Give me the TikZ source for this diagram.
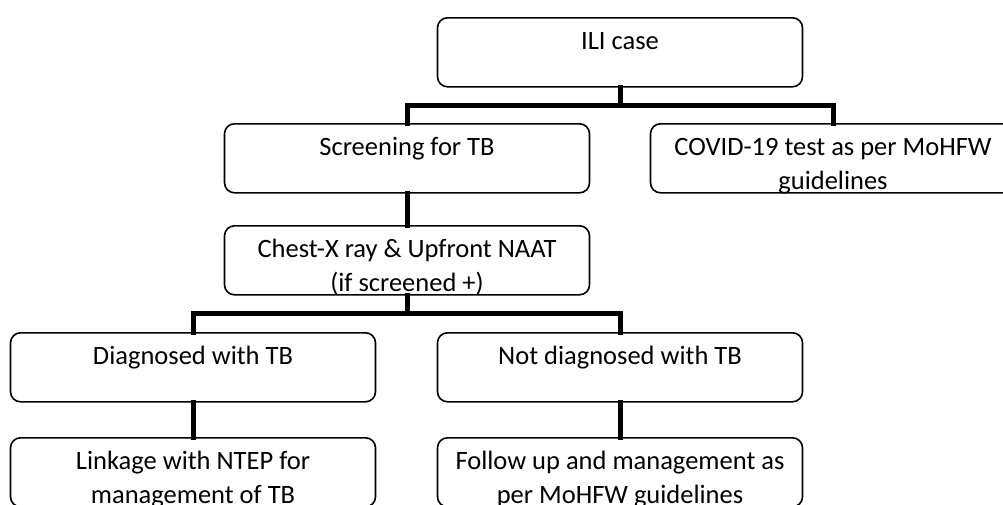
\documentclass[tikz,border=0pt]{standalone}
\usepackage{fontspec}
\setmainfont{Carlito}
\begin{document}
\begin{tikzpicture}[x=1pt,y=-1pt,
  box/.style={draw, line width=1.6pt, rounded corners=10pt, minimum width=365pt,
    inner xsep=0pt, inner ysep=0pt, text height=32pt, text depth=37pt, anchor=north,
    font=\fontsize{26.5}{34}\selectfont},
  conn/.style={line width=5pt, line cap=rect}]
\useasboundingbox (0,0) rectangle (1003,504);
\newcommand{\tl}[2]{\begin{tabular}[t]{@{}c@{}}#1\\#2\end{tabular}}
\node[box] (ili) at (620,17) {ILI case};
\node[box] (scr) at (407,123) {Screening for TB};
\node[box] (cov) at (833,123) {\tl{COVID-19 test as per MoHFW}{guidelines}};
\node[box] (chest) at (407,225) {\tl{Chest-X ray \& Upfront NAAT}{(if screened +)}};
\node[box] (diag) at (193,332) {Diagnosed with TB};
\node[box] (ndiag) at (620,332) {Not diagnosed with TB};
\node[box] (link) at (193,437) {\tl{Linkage with NTEP for}{management of TB}};
\node[box] (foll) at (620,437) {\tl{Follow up and management as}{per MoHFW guidelines}};
\coordinate (j1) at (620,105);
\coordinate (j2) at (407,313);
\draw[conn] (ili.south) -- (j1);
\draw[conn] (scr.north) |- (j1) -| (cov.north);
\draw[conn] (scr.south) -- (chest.north);
\draw[conn] (chest.south) -- (j2);
\draw[conn] (diag.north) |- (j2) -| (ndiag.north);
\draw[conn] (diag.south) -- (link.north);
\draw[conn] (ndiag.south) -- (foll.north);
\end{tikzpicture}
\end{document}
